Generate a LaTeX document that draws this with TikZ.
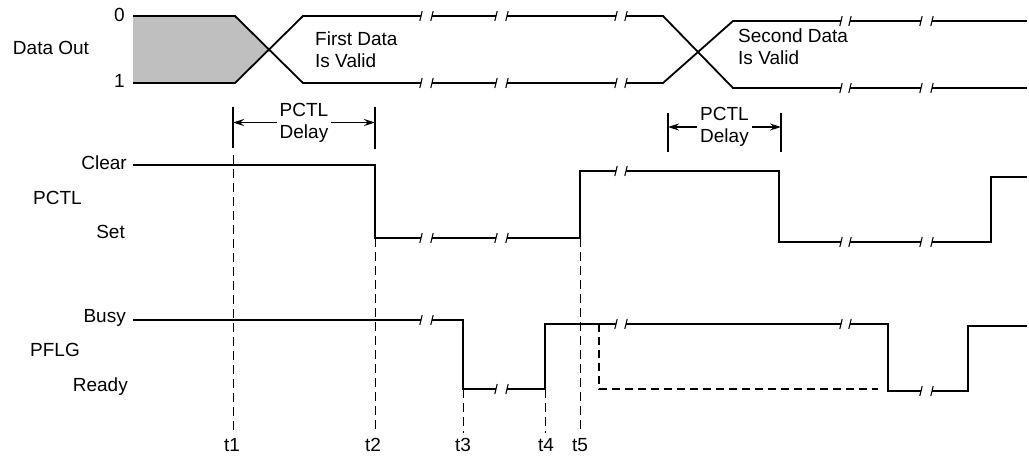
\documentclass[tikz,border=0pt]{standalone}
\usepackage{fontspec}
\setmainfont{Liberation Sans}
\usetikzlibrary{arrows.meta}

% break mark on a signal line: ticks at x=#1 and x=#2, level #3
\newcommand{\brkmark}[3]{%
  \draw[line width=1.1pt] (#1+1.2,#3-5) -- (#1-1.2,#3+5);
  \draw[line width=1.1pt] (#2+1.2,#3-5) -- (#2-1.2,#3+5);}

\begin{document}
\begin{tikzpicture}[x=1pt,y=-1pt,
  sig/.style={line width=1.8pt},
  tline/.style={line width=0.7pt,dash pattern=on 9pt off 5pt},
  lbl/.style={font=\fontsize{19}{22}\selectfont,inner sep=0pt},
  dly/.style={font=\fontsize{19}{22}\selectfont,align=center,inner sep=3pt},
  dlyarrow/.style={line width=1.3pt,-{Stealth[length=11pt,width=7pt]}}]
  \useasboundingbox (0,0) rectangle (1029,456);

  % labels
  \node[lbl] (dataout) at (51,48) {Data Out};
  \node[lbl,anchor=east] (zero) at (125,15) {0};
  \node[lbl,anchor=east] (one) at (125,81) {1};
  \node[lbl,anchor=east] (clear) at (127,163) {Clear};
  \node[lbl,anchor=west] (pctl) at (33,198) {PCTL};
  \node[lbl,anchor=east] (set) at (125,232) {Set};
  \node[lbl,anchor=east] (busy) at (126,318) {Busy};
  \node[lbl,anchor=west] (pflg) at (30,350) {PFLG};
  \node[lbl,anchor=east] (ready) at (128,387) {Ready};
  \node[lbl,anchor=west,align=left] (firstvalid) at (315,50) {First Data\\Is Valid};
  \node[lbl,anchor=west,align=left] (secondvalid) at (738,47) {Second Data\\Is Valid};

  % Data Out
  \fill[black!25] (133,16) -- (235,16) -- (269,49.5) -- (235,83) -- (133,83) -- cycle;
  \draw[sig] (133,16) -- (235,16) -- (303,83) -- (421,83);
  \draw[sig] (133,83) -- (235,83) -- (303,16) -- (421,16);
  \draw[sig] (432,16) -- (496,16);
  \draw[sig] (432,83) -- (496,83);
  \draw[sig] (507,16) -- (616,16);
  \draw[sig] (507,83) -- (616,83);
  \draw[sig] (626,16) -- (663,16) -- (733,88) -- (841,88);
  \draw[sig] (626,83) -- (663,83) -- (733,21) -- (841,21);
  \draw[sig] (850,21) -- (921,21);
  \draw[sig] (850,88) -- (921,88);
  \draw[sig] (932,21) -- (1027,21);
  \draw[sig] (932,88) -- (1027,88);
  \brkmark{421}{432}{16} \brkmark{421}{432}{83}
  \brkmark{496}{507}{16} \brkmark{496}{507}{83}
  \brkmark{616}{626}{16} \brkmark{616}{626}{83}
  \brkmark{841}{850}{21} \brkmark{841}{850}{88}
  \brkmark{921}{932}{21} \brkmark{921}{932}{88}

  % PCTL delay
  \node[dly] (delayA) at (304,122.5) {PCTL\\Delay};
  \node[dly] (delayB) at (724.5,127) {PCTL\\Delay};
  \draw[sig] (233,107) -- (233,148);
  \draw[sig] (375,107) -- (375,149);
  \draw[sig] (668,113) -- (668,152);
  \draw[sig] (781,113) -- (781,152);
  \coordinate (barA1) at (233,122.5);
  \coordinate (barA2) at (375,122.5);
  \coordinate (barB1) at (668,127);
  \coordinate (barB2) at (781,127);
  \draw[dlyarrow] (delayA) -- (barA1);
  \draw[dlyarrow] (delayA) -- (barA2);
  \draw[dlyarrow] (delayB) -- (barB1);
  \draw[dlyarrow] (delayB) -- (barB2);

  % PCTL
  \draw[sig] (133,165) -- (375,165) -- (375,238) -- (421,238);
  \draw[sig] (432,238) -- (496,238);
  \draw[sig] (507,238) -- (580,238) -- (580,171) -- (616,171);
  \draw[sig] (626,171) -- (779,171) -- (779,242) -- (841,242);
  \draw[sig] (850,242) -- (921,242);
  \draw[sig] (932,242) -- (991,242) -- (991,177) -- (1027,177);
  \brkmark{421}{432}{238} \brkmark{496}{507}{238}
  \brkmark{616}{626}{171}
  \brkmark{841}{850}{242} \brkmark{921}{932}{242}

  % PFLG
  \draw[sig] (133,320) -- (421,320);
  \draw[sig] (432,320) -- (463,320) -- (463,389) -- (496,389);
  \draw[sig] (507,389) -- (545,389) -- (545,324) -- (616,324);
  \draw[sig] (626,324) -- (841,324);
  \draw[sig] (850,324) -- (888,324) -- (888,391) -- (921,391);
  \draw[sig] (932,391) -- (968,391) -- (968,326) -- (1027,326);
  \draw[sig,dash pattern=on 8pt off 5pt] (599,324) -- (599,389) -- (878,389);
  \brkmark{421}{432}{320} \brkmark{496}{507}{389}
  \brkmark{616}{626}{324} \brkmark{841}{850}{324}
  \brkmark{921}{932}{391}

  % time marks
  \node[lbl] (t1) at (232,445) {t1};
  \node[lbl] (t2) at (373,445) {t2};
  \node[lbl] (t3) at (463,445) {t3};
  \node[lbl] (t4) at (546,445) {t4};
  \node[lbl] (t5) at (580,445) {t5};
  \draw[tline] (233,155) -- (233,433);
  \draw[tline] (375,238) -- (375,433);
  \draw[tline] (463,389) -- (463,433);
  \draw[tline] (545,389) -- (545,433);
  \draw[tline] (580,238) -- (580,433);
\end{tikzpicture}
\end{document}
